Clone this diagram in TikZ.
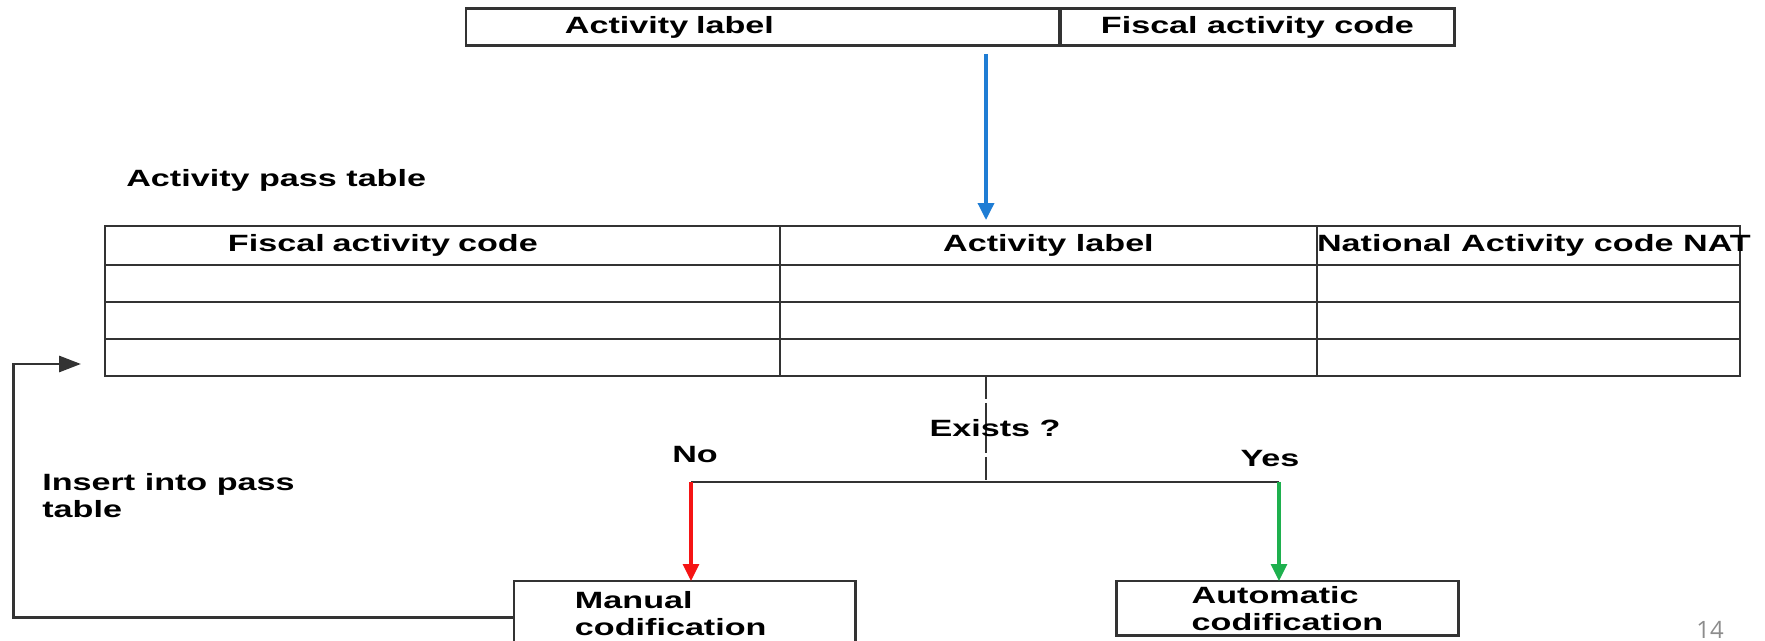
\documentclass[tikz,border=0pt]{standalone}
\usepackage{fontspec}
\setmainfont[FakeStretch=1.45]{Liberation Sans}
\newfontfamily\pagefont{Open Sans}
\usetikzlibrary{positioning,arrows.meta}
\definecolor{gridline}{HTML}{333333}
\definecolor{passblue}{HTML}{1F7DD4}
\definecolor{nored}{HTML}{F51414}
\definecolor{yesgreen}{HTML}{1EB04E}
\tikzset{
    every node/.style={font=\bfseries\fontsize{13.4}{15.4}\selectfont},
    cell/.style={draw=gridline, line width=1.5pt, anchor=north west, inner sep=0pt, outer sep=0pt, minimum height=0.74cm},
    box/.style={draw=gridline, line width=1.7pt, anchor=north west, inner sep=0pt, outer sep=0pt},
    flow/.style={line width=1.8pt, -{Triangle[width=0.32cm,length=0.34cm]}},
}

\begin{document}
\begin{tikzpicture}[x=0.02cm, y=-0.02cm]
    \useasboundingbox (0,0) rectangle (1765,641);

    % source record
    \node[box, minimum width=11.88cm, minimum height=0.74cm, text width=7.92cm, inner xsep=1.98cm, align=left] (toplabel) at (466,9) {Activity label};
    \node[box, minimum width=7.9cm, minimum height=0.74cm] (topcode) at (1060,9) {Fiscal activity code};

    % pass table
    \node[anchor=west, inner sep=0pt] (passtitle) at (126,180) {Activity pass table};
    \node[cell, minimum height=0.78cm, minimum width=13.5cm, text width=8.58cm, inner xsep=2.46cm, align=left] (hd1) at (105,226) {Fiscal activity code};
    \node[cell, minimum height=0.78cm, minimum width=10.74cm] (hd2) at (780,226) {Activity label};
    \node[cell, minimum height=0.78cm, minimum width=8.46cm] (hd3) at (1317,226) {\makebox[8.46cm][l]{National Activity code NAT}};
    \foreach \r/\y in {1/265,2/302,3/339}{
        \node[cell, minimum width=13.5cm] (r\r-c1) at (105,\y) {};
        \node[cell, minimum width=10.74cm] (r\r-c2) at (780,\y) {};
        \node[cell, minimum width=8.46cm] (r\r-c3) at (1317,\y) {};
    }

    % results
    \node[box, minimum width=6.84cm, minimum height=1.3cm, text width=4.4cm, inner xsep=1.22cm, align=left] (manual) at (514,581) {Manual\\codification};
    \node[box, minimum width=6.86cm, minimum height=1.1cm, align=left] (automatic) at (1116,581) {Automatic\\codification};

    \coordinate (split) at (986,482);
    \coordinate (nobranch) at (691,482);
    \coordinate (yesbranch) at (1279,482);
    \coordinate (loopcorner) at (13.5,364);

    \draw[flow, passblue, line width=2pt, shorten <=0.16cm, shorten >=0.12cm] (toplabel.south -| split) -- (hd2.north -| split);
    \draw[gridline, line width=1.6pt, dash pattern=on 0.46cm off 0.08cm] (r3-c2.south -| split) -- (split);
    \draw[gridline, line width=1.7pt] (nobranch) -- (yesbranch);
    \draw[flow, nored] (nobranch) -- (manual.north -| nobranch);
    \draw[flow, yesgreen] (yesbranch) -- (automatic.north -| yesbranch);
    \draw[gridline, line width=1.7pt, -{Triangle[width=0.32cm,length=0.44cm]}, shorten >=0.48cm] ([yshift=-0.09cm]manual.west) -| (loopcorner) -- (loopcorner -| r3-c1.west);

    \node (exists) at (995,428) {Exists ?};
    \node (nolabel) at (695,455) {No};
    \node (yeslabel) at (1270,459) {Yes};
    \node[anchor=west, align=left, inner sep=0pt] (insertnote) at (42,496) {Insert into pass\\table};

    \node[font=\pagefont\fontsize{13.6}{16}\selectfont, text=black!45] (pagenum) at (1710,630) {14};
\end{tikzpicture}
\end{document}
